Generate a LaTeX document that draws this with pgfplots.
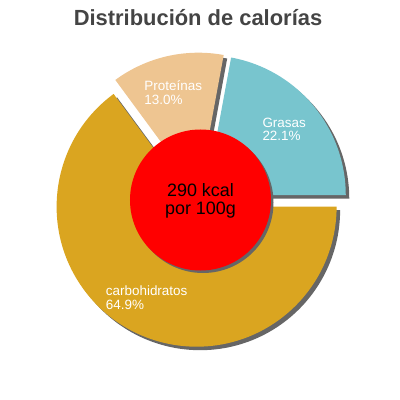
\documentclass[border=0pt]{standalone}
\usepackage{pgfplots}
\pgfplotsset{compat=1.18}
\usepackage{pgfplotstable}
\usepackage{fontspec}
\setmainfont{Liberation Sans}
\definecolor{grasas}{HTML}{78C5CE}
\definecolor{prot}{HTML}{EEC591}
\definecolor{carbo}{HTML}{DAA520}
\definecolor{shadowc}{HTML}{666666}
\definecolor{titlec}{HTML}{444444}

\pgfplotstableread{
name value
Grasas 22.1
Proteinas 13.0
carbohidratos 64.9
}\datatable

\newcommand\drawslice[5]{%
  \pgfmathsetmacro\midA{(#1+#2)/2}%
  \pgfmathsetmacro\cx{200+7.5*cos(\midA)+#4}%
  \pgfmathsetmacro\cy{200+7.5*sin(\midA)+#5}%
  \edef\temp{\noexpand\fill[#3] (axis cs:\cx,\cy) -- ++(#1:140bp) arc[start angle=#1, end angle=#2, radius=140bp] -- cycle;}%
  \temp}

\begin{document}
\begin{tikzpicture}
\pgfplotstablegetelem{0}{value}\of\datatable \let\vA\pgfplotsretval
\pgfplotstablegetelem{1}{value}\of\datatable \let\vB\pgfplotsretval
\pgfplotstablegetelem{2}{value}\of\datatable \let\vC\pgfplotsretval
\pgfmathsetmacro\aA{0}
\pgfmathsetmacro\aB{3.6*\vA}
\pgfmathsetmacro\aC{\aB+3.6*\vB}
\pgfmathsetmacro\aD{\aC+3.6*\vC}
\begin{axis}[
  xmin=0, xmax=400, ymin=0, ymax=400,
  width=400bp, height=400bp, scale only axis,
  hide axis, clip=false,
]
\path (axis cs:0,0) rectangle (axis cs:400,400);
% shadows
\drawslice{\aA}{\aB}{shadowc}{3.5}{-3.5}
\drawslice{\aB}{\aC}{shadowc}{3.5}{-3.5}
\drawslice{\aC}{\aD}{shadowc}{3.5}{-3.5}
% slices
\drawslice{\aA}{\aB}{grasas}{0}{0}
\drawslice{\aB}{\aC}{prot}{0}{0}
\drawslice{\aC}{\aD}{carbo}{0}{0}
% centre
\fill[shadowc] (axis cs:203,197.5) circle[radius=70.5bp];
\fill[red] (axis cs:200.5,200) circle[radius=70.5bp];
\node[anchor=base, inner sep=0, font=\fontsize{18}{18}\selectfont] at (axis cs:200.5,204) {290 kcal};
\node[anchor=base, inner sep=0, font=\fontsize{18}{18}\selectfont] at (axis cs:200.5,186) {por 100g};
% labels
\node[anchor=base west, inner sep=0, text=white, font=\fontsize{13.5}{13.5}\selectfont] at (axis cs:144.3,309.6) {Proteínas};
\node[anchor=base west, inner sep=0, text=white, font=\fontsize{13.5}{13.5}\selectfont] at (axis cs:144.3,295.8) {13.0\%};
\node[anchor=base west, inner sep=0, text=white, font=\fontsize{13.5}{13.5}\selectfont] at (axis cs:262.3,273.0) {Grasas};
\node[anchor=base west, inner sep=0, text=white, font=\fontsize{13.5}{13.5}\selectfont] at (axis cs:262.3,259.2) {22.1\%};
\node[anchor=base west, inner sep=0, text=white, font=\fontsize{13.5}{13.5}\selectfont] at (axis cs:105.7,104.6) {carbohidratos};
\node[anchor=base west, inner sep=0, text=white, font=\fontsize{13.5}{13.5}\selectfont] at (axis cs:105.7,90.8) {64.9\%};
% title
\node[anchor=base, inner sep=0, text=titlec, font=\bfseries\fontsize{22}{22}\selectfont] at (axis cs:198,375) {Distribución de calorías};
\end{axis}
\end{tikzpicture}
\end{document}
